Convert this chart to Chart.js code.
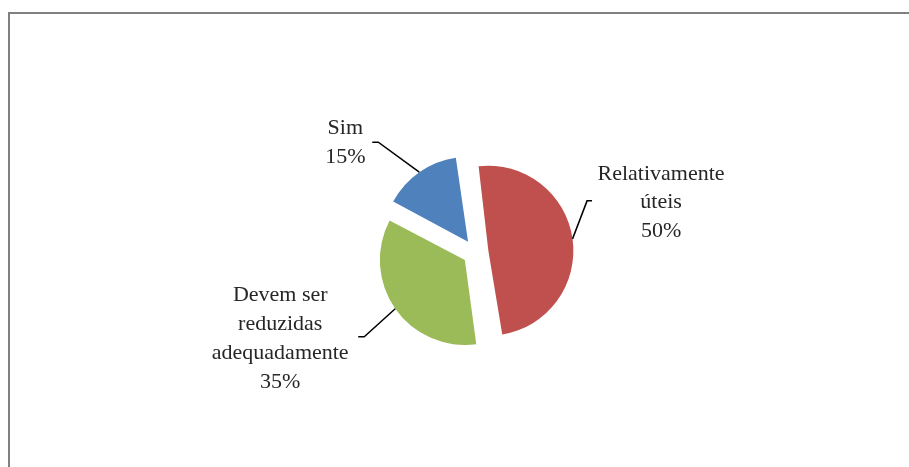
<!DOCTYPE html>
<html lang="pt">
  <head>
    <meta charset="utf-8" />
    <title>Pie chart</title>
    <script src="https://cdn.jsdelivr.net/npm/chart.js/dist/chart.umd.min.js"></script>
    <style>
      * {
        margin: 0;
        padding: 0;
      }
      body {
        width: 909px;
        height: 467px;
        background: #fff;
        overflow: hidden;
      }
      .frame {
        position: absolute;
        left: 8px;
        top: 12px;
        right: 0;
        bottom: 0;
        border-top: 2px solid #808080;
        border-left: 2px solid #808080;
      }
      .chartBox {
        position: absolute;
        left: 0;
        top: 0;
        width: 909px;
        height: 467px;
      }
    </style>
  </head>
  <body>
    <div class="frame"></div>
    <div class="chartBox">
      <canvas id="myChart"></canvas>
    </div>

    <script>
      const labels = [["Relativamente", "úteis"], ["Devem ser", "reduzidas", "adequadamente"], ["Sim"]];
      const values = [50, 35, 15];
      const colors = ["#C0504D", "#9BBB59", "#4F81BD"];

      const pieRadius = 85;
      const explode = 13; // px each slice is pulled out
      const lineHeight = 28.7;

      // leader line + text placement, relative to the point on the slice edge
      const labelLayout = [
        { elbow: [14.5, -38], tail: 5, text: [88.5, -65] },
        { elbow: [-31, 28], tail: -6, text: [-115, -13] },
        { elbow: [-41, -30], tail: -6, text: [-74, -44] },
      ];

      // chart.js grows a slice radius when offset is used, undo that so all slices match
      const evenRadius = {
        id: "evenRadius",
        beforeDatasetsDraw(chart) {
          chart.getDatasetMeta(0).data.forEach((arc) => {
            const fix = 1 - Math.sin(Math.min(Math.PI, arc.circumference));
            arc.outerRadius = pieRadius - explode * fix;
          });
        },
      };

      const sliceLabels = {
        id: "sliceLabels",
        afterDatasetsDraw(chart) {
          const ctx = chart.ctx;
          const arcs = chart.getDatasetMeta(0).data;
          const total = values.reduce((a, b) => a + b, 0);
          ctx.save();
          ctx.font = "22px 'Liberation Serif'";
          ctx.textAlign = "center";
          ctx.textBaseline = "middle";
          ctx.fillStyle = "#262626";
          ctx.strokeStyle = "#000";
          ctx.lineWidth = 1.5;
          arcs.forEach((arc, i) => {
            const mid = (arc.startAngle + arc.endAngle) / 2;
            const ax = arc.x + Math.cos(mid) * (pieRadius + explode);
            const ay = arc.y + Math.sin(mid) * (pieRadius + explode);
            const lay = labelLayout[i];
            const ex = ax + lay.elbow[0];
            const ey = ay + lay.elbow[1];
            ctx.beginPath();
            ctx.moveTo(ax, ay);
            ctx.lineTo(ex, ey);
            ctx.lineTo(ex + lay.tail, ey);
            ctx.stroke();

            const lines = labels[i].concat([Math.round((values[i] / total) * 100) + "%"]);
            lines.forEach((t, k) => {
              ctx.fillText(t, ax + lay.text[0], ay + lay.text[1] + k * lineHeight);
            });
          });
          ctx.restore();
        },
      };

      const config = {
        type: "pie",
        data: {
          labels: labels.map((l) => l.join(" ")),
          datasets: [
            {
              data: values,
              backgroundColor: colors,
              borderWidth: 0,
              offset: explode * 4,
            },
          ],
        },
        options: {
          responsive: true,
          maintainAspectRatio: false,
          animation: false,
          events: [],
          radius: pieRadius,
          rotation: -8,
          layout: {
            padding: { left: 60, right: 18, top: 50, bottom: 12 },
          },
          plugins: {
            legend: { display: false },
            tooltip: { enabled: false },
          },
        },
        plugins: [evenRadius, sliceLabels],
      };

      const myChart = new Chart(document.getElementById("myChart"), config);
    </script>
  </body>
</html>
